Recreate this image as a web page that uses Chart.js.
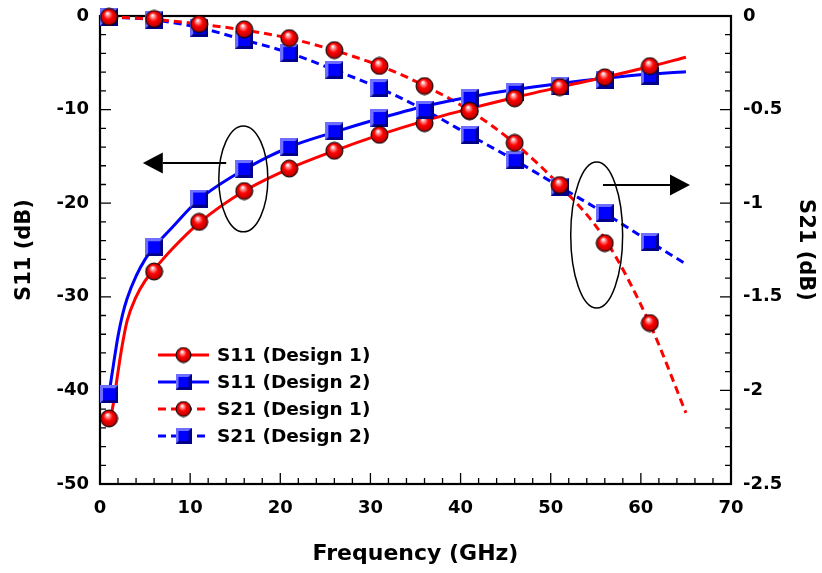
<!DOCTYPE html>
<html>
<head>
<meta charset="utf-8">
<script src="https://cdn.jsdelivr.net/npm/chart.js@4.4.0/dist/chart.umd.min.js"></script>
<style>
  html, body { margin: 0; padding: 0; background: #fff; }
  #wrap { width: 822px; height: 573px; position: relative; }
</style>
</head>
<body>
<div id="wrap"><canvas id="chart"></canvas></div>
<script>
// Measurement frequencies (GHz)
const freq = [1, 6, 11, 16, 21, 26, 31, 36, 41, 46, 51, 56, 61];

// S11 (dB), left axis
const s11Design1 = [-43.0, -27.3, -22.0, -18.7, -16.3, -14.4, -12.7, -11.45, -10.15, -8.8, -7.6, -6.55, -5.35];
const s11Design2 = [-40.4, -24.7, -19.5, -16.35, -14.0, -12.3, -10.9, -10.0, -8.75, -8.1, -7.5, -6.85, -6.4];

// S21 (dB), right axis
const s21Design1 = [-0.005, -0.016, -0.043, -0.071, -0.118, -0.182, -0.267, -0.374, -0.507, -0.678, -0.903, -1.213, -1.64];
const s21Design2 = [-0.005, -0.021, -0.064, -0.128, -0.198, -0.288, -0.385, -0.502, -0.636, -0.77, -0.913, -1.052, -1.207];

// Trend curves through the measurements
const s11FitFreq = [1, 1.5, 2, 2.5, 3, 4, 5, 6, 8, 11, 16, 21, 26, 31, 36, 41, 46, 51, 56, 61, 65];
const s11FitDesign1 = [-43.8, -41.3, -38.0, -35.0, -32.6, -30.0, -28.3, -27.1, -24.9, -22.1, -18.7, -16.3, -14.4, -12.7, -11.2, -9.9, -8.7, -7.6, -6.55, -5.4, -4.4];
const s11FitDesign2 = [-40.4, -37.2, -34.2, -31.9, -30.2, -27.8, -26.0, -24.7, -22.6, -19.6, -16.4, -14.0, -12.4, -10.95, -9.65, -8.65, -7.85, -7.2, -6.65, -6.2, -5.95];
const s21FitFreq = [1, 6, 11, 16, 21, 26, 31, 36, 41, 46, 51, 56, 61, 65];
const s21FitDesign1 = [-0.004, -0.018, -0.043, -0.075, -0.119, -0.184, -0.265, -0.372, -0.505, -0.68, -0.905, -1.19, -1.645, -2.12];
const s21FitDesign2 = [-0.005, -0.021, -0.062, -0.128, -0.197, -0.288, -0.385, -0.502, -0.636, -0.77, -0.912, -1.054, -1.206, -1.325];

const seriesLabels = ['S11 (Design 1)', 'S11 (Design 2)', 'S21 (Design 1)', 'S21 (Design 2)'];
const axisTitles = { x: 'Frequency (GHz)', left: 'S11 (dB)', right: 'S21 (dB)' };

const RED = '#ff0000';
const BLUE = '#0000ff';
const DASH = [8, 5];
const FONT = '"DejaVu Sans", "Liberation Sans", sans-serif';

// Shaded sphere marker
function sphere(r) {
  const s = Math.ceil(r * 2 + 2);
  const c = document.createElement('canvas');
  c.width = c.height = s;
  const g = c.getContext('2d');
  const m = s / 2;
  const grad = g.createRadialGradient(m - r * 0.2, m - r * 0.45, r * 0.05, m, m, r);
  grad.addColorStop(0, '#ffffff');
  grad.addColorStop(0.25, '#ff7878');
  grad.addColorStop(0.5, '#ff0000');
  grad.addColorStop(0.85, '#c80000');
  grad.addColorStop(1, '#6a0000');
  g.beginPath();
  g.arc(m, m, r, 0, Math.PI * 2);
  g.fillStyle = grad;
  g.fill();
  g.lineWidth = 1;
  g.strokeStyle = '#000';
  g.stroke();
  return c;
}

// Bevelled square marker
function bevelSquare(size, bevel) {
  const c = document.createElement('canvas');
  c.width = c.height = size;
  const g = c.getContext('2d');
  g.fillStyle = '#00008a';
  g.fillRect(0, 0, size, size);
  g.fillStyle = '#6e6eff';
  g.beginPath();
  g.moveTo(0, 0); g.lineTo(size, 0); g.lineTo(0, size);
  g.closePath();
  g.fill();
  g.fillStyle = '#0000ff';
  g.fillRect(bevel, bevel, size - 2 * bevel, size - 2 * bevel);
  return c;
}

const ballMark = sphere(8.5);
const squareMark = bevelSquare(18, 3);
const ballLegend = sphere(7.5);
const squareLegend = bevelSquare(16, 3);

const pts = (xs, ys) => xs.map((x, i) => ({ x: x, y: ys[i] }));

function fitLine(label, xs, ys, color, axis, dashed, order) {
  return {
    label: label, data: pts(xs, ys), yAxisID: axis,
    borderColor: color, backgroundColor: color, borderWidth: 3,
    borderDash: dashed ? DASH : [], pointRadius: 0,
    cubicInterpolationMode: 'monotone', fill: false, order: order
  };
}
function markers(label, ys, mark, axis, order) {
  return {
    label: label, data: pts(freq, ys), yAxisID: axis,
    showLine: false, pointStyle: mark, pointRadius: 9,
    clip: false, order: order
  };
}

const datasets = [
  fitLine(seriesLabels[0], s11FitFreq, s11FitDesign1, RED, 'y', false, 20),
  fitLine(seriesLabels[1], s11FitFreq, s11FitDesign2, BLUE, 'y', false, 21),
  fitLine(seriesLabels[2], s21FitFreq, s21FitDesign1, RED, 'y2', true, 22),
  fitLine(seriesLabels[3], s21FitFreq, s21FitDesign2, BLUE, 'y2', true, 23),
  markers(seriesLabels[1], s11Design2, squareMark, 'y', 4),
  markers(seriesLabels[0], s11Design1, ballMark, 'y', 3),
  markers(seriesLabels[3], s21Design2, squareMark, 'y2', 2),
  markers(seriesLabels[2], s21Design1, ballMark, 'y2', 1)
];

// Legend entries: label, colour, dash, marker
const legendItems = [
  { text: seriesLabels[0], color: RED, dash: [], mark: ballLegend },
  { text: seriesLabels[1], color: BLUE, dash: [], mark: squareLegend },
  { text: seriesLabels[2], color: RED, dash: DASH, mark: ballLegend },
  { text: seriesLabels[3], color: BLUE, dash: DASH, mark: squareLegend }
];

// Ellipse call-outs with arrows pointing to the relevant axis (values in GHz / S11 dB)
const callouts = [
  { cx: 15.9, cy: -17.4, rx: 2.72, ry: 5.66, arrowFrom: 14.0, arrowTo: 4.75, arrowAt: -15.7 },
  { cx: 55.1, cy: -23.4, rx: 2.88, ry: 7.8, arrowFrom: 55.8, arrowTo: 65.45, arrowAt: -18.06 }
];

const framePlugin = {
  id: 'frame',
  beforeDatasetsDraw(chart) {
    const { ctx, chartArea: a, scales } = chart;
    ctx.save();
    ctx.strokeStyle = '#000';
    // inward tick marks
    ctx.lineWidth = 1.3;
    const tick = (scale, step, majorStep, draw) => {
      const n = Math.round((scale.max - scale.min) / step);
      for (let i = 0; i <= n; i++) {
        const v = scale.min + i * step;
        const r = v / majorStep;
        const major = Math.abs(r - Math.round(r)) < 1e-6;
        draw(scale.getPixelForValue(v), major ? 11 : 6);
      }
    };
    ctx.beginPath();
    tick(scales.x, 2, 10, (p, len) => { ctx.moveTo(p, a.bottom); ctx.lineTo(p, a.bottom - len); });
    tick(scales.y, 2, 10, (p, len) => { ctx.moveTo(a.left, p); ctx.lineTo(a.left + len, p); });
    tick(scales.y2, 0.1, 0.5, (p, len) => { ctx.moveTo(a.right, p); ctx.lineTo(a.right - len, p); });
    ctx.stroke();
    // plot frame
    ctx.lineWidth = 2.2;
    ctx.strokeRect(a.left, a.top, a.right - a.left, a.bottom - a.top);
    ctx.restore();
  }
};

const calloutPlugin = {
  id: 'callouts',
  afterDatasetsDraw(chart) {
    const { ctx, scales: { x, y } } = chart;
    ctx.save();
    ctx.strokeStyle = '#000';
    ctx.fillStyle = '#000';
    callouts.forEach(c => {
      const cx = x.getPixelForValue(c.cx), cy = y.getPixelForValue(c.cy);
      const rx = Math.abs(x.getPixelForValue(c.cx + c.rx) - cx);
      const ry = Math.abs(y.getPixelForValue(c.cy + c.ry) - cy);
      ctx.lineWidth = 1.5;
      ctx.beginPath();
      ctx.ellipse(cx, cy, rx, ry, 0, 0, Math.PI * 2);
      ctx.stroke();
      const x0 = x.getPixelForValue(c.arrowFrom), x1 = x.getPixelForValue(c.arrowTo);
      const ay = y.getPixelForValue(c.arrowAt);
      const dir = Math.sign(x1 - x0);
      const headLen = 20, headHalf = 10.5;
      ctx.lineWidth = 2;
      ctx.beginPath();
      ctx.moveTo(x0, ay);
      ctx.lineTo(x1 - dir * headLen, ay);
      ctx.stroke();
      ctx.beginPath();
      ctx.moveTo(x1, ay);
      ctx.lineTo(x1 - dir * headLen, ay - headHalf);
      ctx.lineTo(x1 - dir * headLen, ay + headHalf);
      ctx.closePath();
      ctx.fill();
    });
    ctx.restore();
  }
};

const legendPlugin = {
  id: 'insetLegend',
  afterDatasetsDraw(chart) {
    const { ctx, chartArea: a } = chart;
    const left = a.left + 58, top = a.top + 339, rowGap = 27, lineLen = 51;
    ctx.save();
    ctx.font = 'bold 18.5px ' + FONT;
    ctx.textBaseline = 'middle';
    ctx.textAlign = 'left';
    legendItems.forEach((it, i) => {
      const yy = top + i * rowGap;
      ctx.strokeStyle = it.color;
      ctx.lineWidth = 3;
      ctx.setLineDash(it.dash);
      ctx.beginPath();
      ctx.moveTo(left, yy);
      ctx.lineTo(left + lineLen, yy);
      ctx.stroke();
      ctx.setLineDash([]);
      ctx.drawImage(it.mark, left + lineLen / 2 - it.mark.width / 2, yy - it.mark.height / 2);
      ctx.fillStyle = '#000';
      ctx.fillText(it.text, left + lineLen + 8, yy + 1);
    });
    ctx.restore();
  }
};

const tickFont = { family: FONT, weight: 'bold', size: 18 };
const titleFont = { family: FONT, weight: 'bold', size: 21, lineHeight: 1.2 };
const plainNumber = v => String(Math.round(v * 1000) / 1000);

new Chart(document.getElementById('chart'), {
  type: 'line',
  data: { datasets: datasets },
  options: {
    responsive: true,
    maintainAspectRatio: false,
    animation: false,
    events: [],
    layout: { padding: { top: 16, left: 0, right: 0, bottom: 0 } },
    plugins: { legend: { display: false }, tooltip: { enabled: false } },
    scales: {
      x: {
        type: 'linear', min: 0, max: 70,
        ticks: { stepSize: 10, padding: 14, color: '#000', font: tickFont, callback: plainNumber },
        grid: { display: false, drawTicks: false },
        border: { display: false },
        title: { display: true, text: axisTitles.x, color: '#000', font: { family: FONT, weight: 'bold', size: 22, lineHeight: 1.2 }, padding: { top: 0, bottom: 6 } },
        afterFit(s) { s.height = 89; s.paddingLeft = 0; s.paddingRight = 0; }
      },
      y: {
        type: 'linear', position: 'left', min: -50, max: 0,
        ticks: { stepSize: 10, padding: 11, color: '#000', font: tickFont, callback: plainNumber },
        grid: { display: false, drawTicks: false },
        border: { display: false },
        title: { display: true, text: axisTitles.left, color: '#000', font: titleFont, padding: { top: 12, bottom: 0 } },
        afterFit(s) { s.width = 100; s.paddingTop = 0; s.paddingBottom = 0; }
      },
      y2: {
        type: 'linear', position: 'right', min: -2.5, max: 0,
        ticks: { stepSize: 0.5, padding: 12, color: '#000', font: tickFont, callback: plainNumber },
        grid: { display: false, drawTicks: false },
        border: { display: false },
        title: { display: true, text: axisTitles.right, color: '#000', font: titleFont, padding: { top: 4, bottom: 0 } },
        afterFit(s) { s.width = 91; s.paddingTop = 0; s.paddingBottom = 0; }
      }
    }
  },
  plugins: [framePlugin, calloutPlugin, legendPlugin]
});
</script>
</body>
</html>
